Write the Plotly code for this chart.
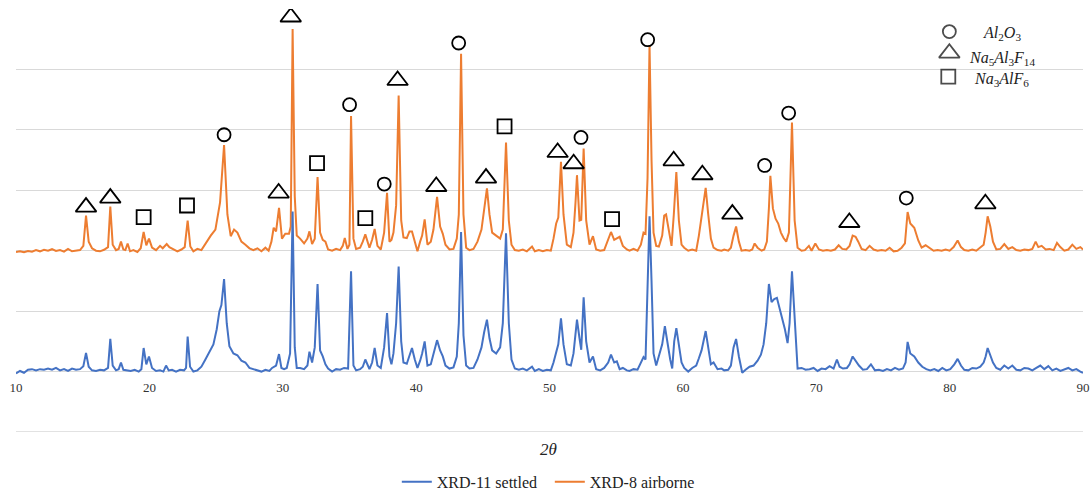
import plotly.graph_objects as go

# ---------------- data ----------------
ORANGE = [(10.0,1980),(10.3,1990),(10.6,1975),(10.9,1995),(11.2,1985),(11.5,2010),(11.8,1990),(12.1,2015),(12.4,2000),(12.7,2025),(13.0,1995),(13.3,2010),(13.6,1985),(13.9,2030),(14.2,1990),(14.5,1995),(14.8,2010),(15.05,2080),(15.25,2580),(15.45,2150),(15.7,2040),(16.0,2000),(16.3,1990),(16.6,2015),(16.9,2060),(17.07,2730),(17.25,2100),(17.5,2010),(17.7,2030),(17.87,2150),(18.05,2020),(18.2,2010),(18.37,2120),(18.55,1990),(18.8,2010),(19.1,1980),(19.35,2040),(19.57,2310),(19.77,2090),(19.97,2200),(20.2,2050),(20.5,2010),(20.8,2080),(21.0,2040),(21.3,2110),(21.5,2060),(21.8,2030),(22.1,1990),(22.4,2020),(22.65,2060),(22.87,2500),(23.07,2070),(23.3,1990),(23.6,2030),(23.9,2010),(24.3,2150),(24.6,2250),(24.95,2350),(25.3,2800),(25.6,3750),(25.85,2600),(26.1,2240),(26.35,2350),(26.6,2300),(26.9,2150),(27.2,2100),(27.5,2040),(27.8,2010),(28.1,2040),(28.4,1990),(28.7,2050),(28.94,2000),(29.15,2150),(29.32,2380),(29.5,2320),(29.72,2710),(29.94,2200),(30.19,2280),(30.47,2280),(30.6,2400),(30.74,5670),(30.9,2900),(31.05,2250),(31.3,2200),(31.6,2120),(31.85,2200),(32.0,2320),(32.2,2110),(32.4,2200),(32.61,3220),(32.8,2300),(33.0,2180),(33.2,2150),(33.4,2020),(33.7,2000),(34.0,2030),(34.3,2010),(34.5,2080),(34.65,2210),(34.85,2030),(35.0,2100),(35.12,4230),(35.3,2200),(35.5,2030),(35.8,2050),(36.0,2150),(36.19,2270),(36.5,2050),(36.7,2180),(36.89,2360),(37.1,2080),(37.35,2020),(37.6,2300),(37.82,2960),(38.0,2150),(38.15,2180),(38.3,2300),(38.5,2750),(38.69,4570),(38.88,2500),(39.05,2220),(39.3,2210),(39.5,2320),(39.69,2320),(39.9,2150),(40.1,1990),(40.3,2150),(40.45,2250),(40.64,2520),(40.85,2100),(41.1,2150),(41.3,2350),(41.57,2890),(41.8,2400),(42.0,2280),(42.2,2100),(42.5,2020),(42.8,2030),(43.05,2200),(43.2,2600),(43.37,5260),(43.55,2600),(43.75,2050),(44.0,2010),(44.3,2030),(44.6,2150),(44.9,2350),(45.1,2650),(45.31,3030),(45.5,2600),(45.7,2300),(46.0,2250),(46.3,2200),(46.5,2350),(46.74,3790),(46.95,2500),(47.15,2100),(47.4,2010),(47.7,2000),(48.0,2020),(48.3,1990),(48.69,2070),(48.9,1990),(49.2,2010),(49.5,1990),(49.8,2010),(50.1,2000),(50.3,2200),(50.5,2450),(50.66,2550),(50.86,3470),(51.05,2600),(51.3,2100),(51.6,2060),(51.8,2300),(51.95,2800),(52.06,3250),(52.25,2500),(52.38,2510),(52.56,3690),(52.75,2500),(53.0,2100),(53.15,2180),(53.26,2240),(53.5,2020),(53.8,2000),(54.1,2010),(54.4,2180),(54.61,2310),(54.85,2180),(55.05,2200),(55.26,2230),(55.5,2080),(55.8,2020),(56.0,2000),(56.3,2030),(56.6,2000),(56.85,2100),(57.05,2300),(57.2,2280),(57.35,3200),(57.5,5400),(57.65,3500),(57.8,2300),(58.0,2080),(58.2,2070),(58.45,2250),(58.6,2580),(58.74,2600),(58.95,2350),(59.15,2080),(59.32,2600),(59.51,3300),(59.7,2500),(59.9,2100),(60.1,2050),(60.4,2000),(60.7,2020),(61.0,2000),(61.2,2250),(61.4,2550),(61.71,3040),(61.9,2600),(62.1,2200),(62.3,2050),(62.6,2010),(62.9,2000),(63.1,2020),(63.4,2000),(63.6,2050),(63.8,2250),(63.99,2400),(64.2,2150),(64.4,2000),(64.7,2010),(65.0,2000),(65.2,2020),(65.38,2120),(65.6,2050),(65.9,2000),(66.1,2020),(66.3,2150),(66.45,2700),(66.56,3240),(66.75,2700),(66.95,2530),(67.15,2450),(67.35,2300),(67.55,2210),(67.75,2150),(67.95,2300),(68.18,4120),(68.38,2500),(68.6,2050),(68.9,2000),(69.15,2010),(69.45,2080),(69.65,2000),(69.93,2120),(70.2,2020),(70.5,2000),(70.8,2010),(71.1,2000),(71.4,2020),(71.68,2090),(71.95,2030),(72.25,2020),(72.5,2080),(72.73,2250),(72.95,2230),(73.15,2150),(73.4,2030),(73.7,2010),(74.0,2080),(74.3,2020),(74.6,2000),(74.9,2010),(75.2,2000),(75.5,2050),(75.8,1990),(76.1,2000),(76.4,2050),(76.65,2120),(76.85,2640),(77.05,2450),(77.35,2380),(77.65,2170),(77.9,2050),(78.2,2090),(78.5,2040),(78.8,2000),(79.1,2010),(79.4,2000),(79.7,2020),(80.0,2000),(80.3,2060),(80.6,2170),(80.85,2060),(81.1,2010),(81.4,2000),(81.7,2020),(82.0,2000),(82.3,2050),(82.55,2100),(82.7,2300),(82.85,2570),(83.05,2400),(83.25,2150),(83.5,2020),(83.8,2030),(84.1,2110),(84.4,2030),(84.7,2060),(85.0,2010),(85.3,2000),(85.6,2020),(85.9,2010),(86.2,2030),(86.45,2150),(86.65,2060),(86.9,2080),(87.2,2020),(87.5,2030),(87.8,2010),(88.05,2130),(88.3,2060),(88.6,2000),(88.9,2020),(89.2,2100),(89.5,2030),(89.8,2060),(90.0,2020)]

BLUE = [(10.0,-30),(10.3,10),(10.6,-20),(10.9,30),(11.2,40),(11.5,20),(11.8,40),(12.1,30),(12.4,50),(12.7,30),(13.0,60),(13.3,20),(13.6,40),(13.9,10),(14.2,50),(14.5,30),(14.8,40),(15.05,90),(15.25,310),(15.45,80),(15.7,20),(16.0,10),(16.3,30),(16.6,20),(16.9,60),(17.07,540),(17.25,100),(17.5,20),(17.7,40),(17.87,150),(18.05,30),(18.3,20),(18.6,10),(18.9,30),(19.2,0),(19.4,40),(19.57,390),(19.77,120),(19.97,250),(20.2,60),(20.5,10),(20.8,20),(21.05,0),(21.25,100),(21.45,20),(21.7,30),(22.0,0),(22.3,30),(22.6,20),(22.75,60),(22.87,580),(23.05,80),(23.3,0),(23.6,20),(23.9,80),(24.2,200),(24.5,330),(24.8,450),(25.05,700),(25.25,1000),(25.4,1100),(25.6,1530),(25.8,800),(26.0,420),(26.3,300),(26.6,270),(26.9,180),(27.2,150),(27.5,60),(27.8,40),(28.1,20),(28.4,0),(28.7,30),(29.0,10),(29.2,60),(29.5,100),(29.72,290),(29.9,60),(30.1,40),(30.3,60),(30.55,300),(30.74,2650),(30.9,400),(31.05,60),(31.3,60),(31.6,40),(31.85,100),(32.0,330),(32.2,150),(32.4,400),(32.61,1450),(32.8,350),(33.0,250),(33.2,120),(33.4,50),(33.7,0),(34.0,40),(34.3,30),(34.6,60),(34.9,50),(35.12,1660),(35.3,100),(35.5,20),(35.8,40),(36.0,80),(36.19,200),(36.5,40),(36.7,150),(36.89,390),(37.1,100),(37.35,60),(37.6,400),(37.82,970),(38.0,250),(38.15,120),(38.3,300),(38.5,800),(38.69,1740),(38.88,500),(39.05,150),(39.3,130),(39.5,250),(39.69,390),(39.9,200),(40.1,60),(40.3,180),(40.45,300),(40.64,500),(40.85,100),(41.1,120),(41.3,300),(41.57,520),(41.8,350),(42.0,250),(42.2,100),(42.5,50),(42.8,70),(43.05,250),(43.2,800),(43.37,2310),(43.55,600),(43.75,100),(44.0,50),(44.3,60),(44.6,200),(44.9,400),(45.1,650),(45.31,860),(45.5,550),(45.7,350),(46.0,300),(46.3,400),(46.5,800),(46.74,2290),(46.95,800),(47.15,200),(47.4,50),(47.7,30),(48.0,50),(48.3,20),(48.69,80),(48.9,10),(49.2,40),(49.5,10),(49.8,30),(50.1,20),(50.3,150),(50.5,300),(50.66,450),(50.86,880),(51.05,450),(51.3,120),(51.6,100),(51.8,300),(51.95,650),(52.06,860),(52.25,550),(52.38,360),(52.56,1230),(52.75,500),(53.0,150),(53.15,200),(53.26,250),(53.5,40),(53.8,20),(54.1,60),(54.4,150),(54.61,280),(54.85,150),(55.05,170),(55.26,40),(55.5,60),(55.8,20),(56.0,10),(56.3,40),(56.6,30),(56.85,150),(57.05,240),(57.2,200),(57.35,1300),(57.5,2570),(57.65,1500),(57.8,300),(58.0,100),(58.2,250),(58.45,450),(58.65,750),(58.85,450),(59.05,200),(59.2,50),(59.35,500),(59.51,720),(59.7,400),(59.9,150),(60.1,60),(60.4,0),(60.7,60),(61.0,100),(61.2,220),(61.4,350),(61.71,670),(61.9,400),(62.1,120),(62.3,150),(62.6,40),(62.9,50),(63.1,20),(63.4,30),(63.6,100),(63.8,400),(63.99,540),(64.2,250),(64.45,-20),(64.7,30),(65.0,80),(65.3,100),(65.6,180),(65.85,280),(66.05,450),(66.25,800),(66.45,1450),(66.65,1150),(66.85,1200),(67.05,1220),(67.25,1050),(67.45,900),(67.65,700),(67.85,470),(68.0,800),(68.18,1660),(68.38,900),(68.6,50),(68.9,60),(69.2,30),(69.5,40),(69.8,60),(70.1,10),(70.4,50),(70.7,40),(71.0,90),(71.3,50),(71.55,200),(71.75,80),(72.0,50),(72.3,60),(72.5,120),(72.73,250),(72.95,180),(73.2,100),(73.5,30),(73.8,40),(74.1,120),(74.4,20),(74.7,30),(75.0,10),(75.3,40),(75.6,20),(75.9,60),(76.2,30),(76.5,50),(76.7,150),(76.85,490),(77.05,300),(77.35,250),(77.65,150),(77.95,80),(78.25,40),(78.55,20),(78.85,40),(79.15,10),(79.45,60),(79.75,20),(80.05,40),(80.35,120),(80.6,210),(80.85,100),(81.1,30),(81.4,20),(81.7,60),(82.0,50),(82.3,80),(82.55,150),(82.7,250),(82.85,390),(83.05,250),(83.25,150),(83.5,60),(83.8,30),(84.1,100),(84.4,50),(84.7,100),(85.0,30),(85.3,20),(85.6,60),(85.9,50),(86.2,20),(86.5,60),(86.8,100),(87.1,40),(87.4,90),(87.7,20),(88.0,50),(88.3,10),(88.6,30),(88.9,60),(89.2,20),(89.5,40),(89.8,0),(90.0,-20)]

# phase markers placed above the airborne pattern peaks
AL2O3_X = [25.6, 35.01, 37.61, 43.19, 52.36, 57.36, 66.13, 67.93, 76.75]
AL2O3_Y = [3919, 4416, 3103, 5437, 3874, 5492, 3411, 4278, 2871]
NA5_X = [15.25, 17.07, 29.69, 30.6, 38.61, 41.51, 45.24, 50.61, 51.81, 59.31, 61.46, 63.71, 72.48, 82.68]
NA5_Y = [2722, 2871, 2954, 5868, 4818, 3063, 3202, 3626, 3439, 3488, 3257, 2606, 2467, 2776]
NA3_X = [19.57, 22.82, 32.57, 36.19, 46.63, 54.69]
NA3_Y = [2556, 2748, 3450, 2540, 4056, 2523]

X_TICKS = [10, 20, 30, 40, 50, 60, 70, 80, 90]
Y_RANGE = [-1000, 6000]
SERIES_NAMES = ["XRD-11 settled", "XRD-8 airborne"]
PHASE_LABELS = ["<i>Al</i><sub>2</sub><i>O</i><sub>3</sub>",
                "<i>Na</i><sub>5</sub><i>Al</i><sub>3</sub><i>F</i><sub>14</sub>",
                "<i>Na</i><sub>3</sub><i>AlF</i><sub>6</sub>"]

BLUE_C = "#4472C4"
ORANGE_C = "#ED7D31"
GRID_C = "#d9d9d9"
SERIF = "Liberation Serif, Times New Roman, serif"

ox, oy = zip(*ORANGE)
bx, by = zip(*BLUE)

fig = go.Figure()
fig.add_trace(go.Scatter(x=ox, y=oy, mode="lines", name=SERIES_NAMES[1],
                         line=dict(color=ORANGE_C, width=2), legendrank=2))
fig.add_trace(go.Scatter(x=bx, y=by, mode="lines", name=SERIES_NAMES[0],
                         line=dict(color=BLUE_C, width=2), legendrank=1))

mk_line = dict(color="black", width=1.8)
fig.add_trace(go.Scatter(x=AL2O3_X, y=AL2O3_Y, mode="markers", showlegend=False,
                         marker=dict(symbol="circle-open", size=13, color="black", line=mk_line)))
fig.add_trace(go.Scatter(x=NA5_X, y=NA5_Y, mode="markers", showlegend=False,
                         marker=dict(symbol="triangle-up-open", size=18, color="black", line=mk_line)))
fig.add_trace(go.Scatter(x=NA3_X, y=NA3_Y, mode="markers", showlegend=False,
                         marker=dict(symbol="square-open", size=14, color="black", line=mk_line)))

# key for the phase symbols (top right)
KEY_X = [79.98, 79.98, 79.9]
KEY_Y = [5626, 5269, 4882]
fig.add_trace(go.Scatter(x=KEY_X, y=KEY_Y, mode="markers", showlegend=False,
                         marker=dict(symbol=["circle-open", "triangle-up-open", "square-open"],
                                     size=[13, 18, 14], color="black", line=mk_line)))
for lbl, py in zip(PHASE_LABELS, [0.9426, 0.8818, 0.8338]):
    fig.add_annotation(text=lbl, xref="paper", yref="paper", x=0.924, y=py,
                       xanchor="center", yanchor="middle", showarrow=False,
                       font=dict(family=SERIF, size=16, color="#222"))

fig.add_annotation(text="<i>2θ</i>", xref="paper", yref="paper", x=0.4986, y=-0.042,
                   xanchor="center", yanchor="middle", showarrow=False,
                   font=dict(family=SERIF, size=17, color="#222"))

# bottom grid line (lower edge of the value range)
fig.add_shape(type="line", xref="paper", yref="y", x0=0, x1=1, y0=Y_RANGE[0], y1=Y_RANGE[0],
              line=dict(color=GRID_C, width=1.3), layer="below")

fig.update_layout(
    width=1090, height=494,
    margin=dict(l=16, r=7, t=9, b=62, autoexpand=False),
    paper_bgcolor="white", plot_bgcolor="white",
    xaxis=dict(range=[10, 90], tickvals=X_TICKS, showgrid=False, zeroline=False,
               showline=False, anchor="free", position=1/7, ticks="",
               ticklabelstandoff=6, automargin=False,
               tickfont=dict(family=SERIF, size=13, color="#333")),
    yaxis=dict(range=Y_RANGE, dtick=1000, showticklabels=False, showgrid=True,
               gridcolor=GRID_C, gridwidth=1.3, zeroline=False, showline=False,
               automargin=False),
    legend=dict(orientation="h", x=0.5003, y=-0.118, xanchor="center", yanchor="middle",
                entrywidth=108, entrywidthmode="pixels",
                font=dict(family=SERIF, size=16, color="#222"), bgcolor="rgba(0,0,0,0)"),
    showlegend=True,
)

fig.write_html("out.html")
